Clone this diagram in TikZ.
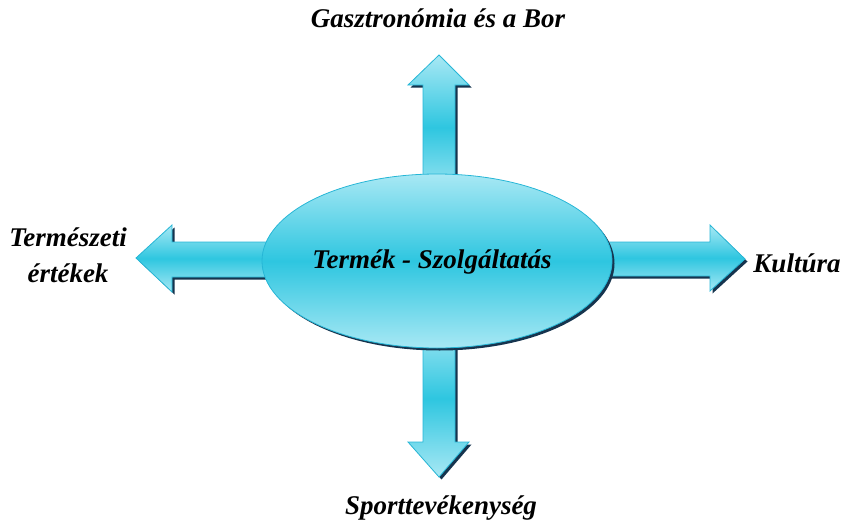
\documentclass[tikz,border=0pt]{standalone}
\usepackage{fontspec}
\setmainfont{Liberation Serif}
\usetikzlibrary{shapes.geometric}
\begin{document}
\begin{tikzpicture}[x=1pt,y=-1pt]
\definecolor{cyanD}{RGB}{46,198,224}
\definecolor{cyanL}{RGB}{168,232,244}
\definecolor{edgec}{RGB}{38,182,214}
\definecolor{shad}{RGB}{22,52,78}
\tikzset{
  lbl/.style={font=\bfseries\itshape\fontsize{27}{36}\selectfont, text=black, inner sep=0pt},
  shapefill/.style={top color=cyanL, bottom color=cyanL, middle color=cyanD, draw=edgec, line width=0.8pt, line join=miter},
  shadowfill/.style={fill=shad}
}
\useasboundingbox (0,0) rectangle (843,527);
% shadows of arrows
\begin{scope}[shift={(2.5,2.5)}]
  \fill[shadowfill] (423,200) -- (423,85) -- (408,85) -- (439,55) -- (469,85) -- (455,85) -- (455,200) -- cycle;
  \fill[shadowfill] (423,320) -- (423,442) -- (408,442) -- (439,477) -- (469,442) -- (455,442) -- (455,320) -- cycle;
  \fill[shadowfill] (300,242) -- (172,242) -- (172,225) -- (136,258) -- (172,292) -- (172,277) -- (300,277) -- cycle;
  \fill[shadowfill] (580,242) -- (710,242) -- (710,225) -- (745,259) -- (710,291) -- (710,276) -- (580,276) -- cycle;
\end{scope}
% arrows
\path[shapefill] (423,200) -- (423,85) -- (408,85) -- (439,55) -- (469,85) -- (455,85) -- (455,200) -- cycle;
\path[shapefill] (423,320) -- (423,442) -- (408,442) -- (439,477) -- (469,442) -- (455,442) -- (455,320) -- cycle;
\path[shapefill] (300,242) -- (172,242) -- (172,225) -- (136,258) -- (172,292) -- (172,277) -- (300,277) -- cycle;
\path[shapefill] (580,242) -- (710,242) -- (710,225) -- (745,259) -- (710,291) -- (710,276) -- (580,276) -- cycle;
% ellipse
\node[ellipse, inner sep=0pt, minimum width=350pt, minimum height=174pt, fill=shad] (shadowell) at (439.5,263.5) {};
\node[ellipse, inner sep=0pt, minimum width=350pt, minimum height=174pt, shapefill] (center) at (437,261) {};
\node[lbl] (ctext) at (432,262) {Termék - Szolgáltatás};
% labels
\node[lbl] (top) at (438,18) {Gasztronómia és a Bor};
\node[lbl, align=center] (left) at (68,255) {Természeti\\értékek};
\node[lbl] (right) at (797,263) {Kultúra};
\node[lbl] (bottom) at (441,508) {Sporttevékenység};
\end{tikzpicture}
\end{document}
